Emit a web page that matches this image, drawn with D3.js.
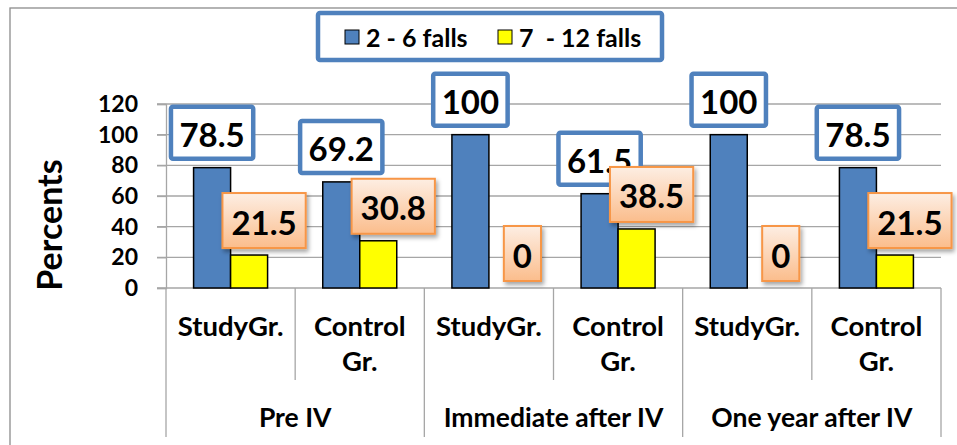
<!DOCTYPE html>
<html>
<head>
<meta charset="utf-8">
<script src="https://cdn.jsdelivr.net/npm/d3@7"></script>
<style>
  body { margin: 0; background: #fff; }
  svg { display: block; font-family: Lato, "Open Sans", sans-serif; font-weight: bold; }
</style>
</head>
<body>
<svg id="chart"></svg>
<script>
// data
var groups = ["Pre IV", "Immediate after IV", "One year after IV"]
var subgroups = ["StudyGr.", "Control Gr."]
var series = ["2 - 6 falls", "7  - 12 falls"]
var falls2to6 = [78.5, 69.2, 100, 61.5, 100, 78.5]
var falls7to12 = [21.5, 30.8, 0, 38.5, 0, 21.5]
var yTicks = [0, 20, 40, 60, 80, 100, 120]

var dimensions = {
    width: 957,
    height: 445,
    margin: { top: 104, bottom: 157, left: 166, right: 16 }
}
var colors = ["#4f81bd", "#ffff00"]
var gridColor = "#a6a6a6"

var svg = d3.select("#chart")
    .attr("width", dimensions.width)
    .attr("height", dimensions.height)

var defs = svg.append("defs")
var grad = defs.append("linearGradient")
    .attr("id", "orangeGrad").attr("x1", 0).attr("y1", 0).attr("x2", 0).attr("y2", 1)
grad.append("stop").attr("offset", "0%").attr("stop-color", "#fdeee3")
grad.append("stop").attr("offset", "100%").attr("stop-color", "#fbbd8c")
var shadow = defs.append("filter").attr("id", "shadow")
    .attr("x", "-20%").attr("y", "-20%").attr("width", "150%").attr("height", "150%")
shadow.append("feDropShadow")
    .attr("dx", 2).attr("dy", 3).attr("stdDeviation", 2)
    .attr("flood-color", "#000").attr("flood-opacity", 0.35)

// outer chart frame
svg.append("rect")
    .attr("x", 10).attr("y", 8)
    .attr("width", 960).attr("height", 460)
    .attr("fill", "none").attr("stroke", "#8c8c8c").attr("stroke-width", 1.3)

var cats = []
groups.forEach(function(g) {
    subgroups.forEach(function(s) { cats.push(g + "|" + s) })
})

var plotLeft = dimensions.margin.left
var plotRight = dimensions.width - dimensions.margin.right
var plotBottom = dimensions.height - dimensions.margin.bottom

var xScale = d3.scaleBand()
    .domain(cats)
    .range([plotLeft, plotRight])
var groupScale = d3.scaleBand()
    .domain(groups)
    .range([plotLeft, plotRight])
var barW = 37
var xInner = d3.scaleBand()
    .domain(series)
    .range([xScale.bandwidth() / 2 - barW, xScale.bandwidth() / 2 + barW])

var yScale = d3.scaleLinear()
    .domain([0, 120])
    .range([plotBottom, dimensions.margin.top])

// gridlines
svg.append("g")
    .selectAll("line")
    .data(yTicks)
    .enter()
    .append("line")
    .attr("x1", plotLeft - 9)
    .attr("x2", plotRight)
    .attr("y1", d => yScale(d))
    .attr("y2", d => yScale(d))
    .attr("stroke", gridColor)
    .attr("stroke-width", 1.3)

// y axis
var yAxisGen = d3.axisLeft(yScale).tickValues(yTicks).tickSize(9).tickPadding(19)
var yAxis = svg.append("g")
    .attr("transform", "translate(" + plotLeft + ",0)")
    .call(yAxisGen)
yAxis.select(".domain").attr("stroke", gridColor).attr("stroke-width", 1.3)
yAxis.selectAll(".tick line").attr("stroke", gridColor).attr("stroke-width", 1.3)
yAxis.selectAll("text")
    .attr("fill", "#000")
    .style("font-size", "23px")
    .style("font-weight", "bold")
    .style("font-family", "Lato, sans-serif")

svg.append("text")
    .attr("transform", "translate(48," + 225 + ") rotate(-90)")
    .attr("text-anchor", "middle")
    .attr("dominant-baseline", "central")
    .style("font-size", "34px")
    .text("Percents")

// category separators below the axis
var seps = d3.range(cats.length + 1)
svg.append("g")
    .selectAll("line")
    .data(seps)
    .enter()
    .append("line")
    .attr("x1", i => plotLeft + i * xScale.bandwidth())
    .attr("x2", i => plotLeft + i * xScale.bandwidth())
    .attr("y1", plotBottom)
    .attr("y2", i => i % 2 == 0 ? 437 : 380)
    .attr("stroke", gridColor)
    .attr("stroke-width", 1.3)

// sub category labels
var subLabels = svg.append("g")
    .selectAll("text")
    .data(cats)
    .enter()
    .append("text")
    .attr("text-anchor", "middle")
    .style("font-size", "27.5px")
    .attr("x", d => xScale(d) + xScale.bandwidth() / 2)
subLabels.each(function(d) {
    var words = d.split("|")[1].split(" ")
    var el = d3.select(this)
    words.forEach(function(w, i) {
        el.append("tspan")
            .attr("x", xScale(d) + xScale.bandwidth() / 2)
            .attr("y", 336 + i * 35)
            .text(w)
    })
})

// group labels
svg.append("g")
    .selectAll("text")
    .data(groups)
    .enter()
    .append("text")
    .attr("text-anchor", "middle")
    .attr("x", d => groupScale(d) + groupScale.bandwidth() / 2)
    .attr("y", 427)
    .style("font-size", "26.5px")
    .text(d => d)

// bars
var values = [falls2to6, falls7to12]
var barData = []
series.forEach(function(s, si) {
    cats.forEach(function(c, ci) {
        barData.push({ series: s, si: si, cat: c, value: values[si][ci] })
    })
})

svg.append("g")
    .selectAll("rect")
    .data(barData)
    .enter()
    .append("rect")
    .attr("x", d => xScale(d.cat) + xInner(d.series))
    .attr("y", d => yScale(d.value))
    .attr("width", xInner.bandwidth())
    .attr("height", d => yScale(0) - yScale(d.value))
    .attr("fill", d => colors[d.si])
    .attr("stroke", "#000")
    .attr("stroke-width", 1.5)

// data labels
function drawLabels(si) {
    var g = svg.append("g")
    barData.filter(d => d.si == si).forEach(function(d) {
        var lg = g.append("g")
        var t = lg.append("text")
            .attr("text-anchor", "middle")
            .attr("dominant-baseline", "central")
            .style("font-size", "33px")
            .text(d.value)
        var tw = t.node().getComputedTextLength()
        var boxW = tw + (si == 0 ? 17 : 18)
        var boxH = si == 0 ? 52 : 55
        var cx = xScale(d.cat) + xInner(d.series) + xInner.bandwidth() / 2
        if (si == 1 && boxW > xInner.bandwidth()) cx += 15
        var bottom = yScale(d.value) - (si == 0 ? 9 : 7)
        var r = lg.insert("rect", "text")
            .attr("x", cx - boxW / 2)
            .attr("y", bottom - boxH)
            .attr("width", boxW)
            .attr("height", boxH)
        if (si == 0) {
            r.attr("fill", "#fff").attr("stroke", "#4f81bd").attr("stroke-width", 4.5)
                .attr("rx", 2)
        } else {
            r.attr("fill", "url(#orangeGrad)").attr("stroke", "#f79646").attr("stroke-width", 2)
                .attr("filter", "url(#shadow)")
        }
        t.attr("x", cx).attr("y", bottom - boxH / 2 + 1)
    })
}
drawLabels(0)
drawLabels(1)

// legend
var legend = svg.append("g")
legend.append("rect")
    .attr("x", 318).attr("y", 13)
    .attr("width", 344).attr("height", 47)
    .attr("fill", "#fff")
    .attr("stroke", "#4f81bd")
    .attr("stroke-width", 4.5)
    .attr("rx", 2)
var legendX = [345, 498]
series.forEach(function(s, i) {
    legend.append("rect")
        .attr("x", legendX[i]).attr("y", 30)
        .attr("width", 14).attr("height", 14)
        .attr("fill", colors[i])
        .attr("stroke", "#000")
        .attr("stroke-width", 1)
    legend.append("text")
        .attr("x", legendX[i] + 21)
        .attr("y", 37)
        .attr("dominant-baseline", "central")
        .attr("xml:space", "preserve")
        .style("white-space", "pre")
        .style("font-size", "25px")
        .text(s)
})
</script>
</body>
</html>
